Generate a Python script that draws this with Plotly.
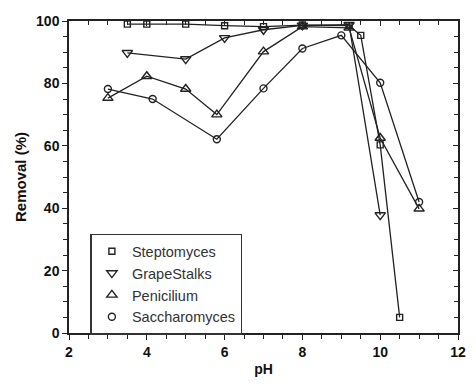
import plotly.graph_objects as go

ph_strep = [3.5, 4.0, 5.0, 6.0, 7.0, 8.0, 9.2, 9.5, 10.0, 10.5]
rem_strep = [99.0, 99.0, 99.0, 98.5, 98.2, 98.7, 98.5, 95.4, 60.3, 5.0]

ph_grape = [3.5, 5.0, 6.0, 7.0, 8.0, 9.2, 10.0]
rem_grape = [89.8, 87.8, 94.6, 97.2, 98.6, 98.8, 37.8]

ph_penic = [3.0, 4.0, 5.0, 5.8, 7.0, 8.0, 9.2, 10.0, 11.0]
rem_penic = [75.3, 82.3, 78.2, 70.0, 90.2, 98.2, 97.8, 62.5, 39.8]

ph_sacch = [3.0, 4.15, 5.8, 7.0, 8.0, 9.0, 10.0, 11.0]
rem_sacch = [78.2, 75.0, 62.1, 78.4, 91.2, 95.4, 80.2, 42.0]

series = [
    ("Steptomyces", ph_strep, rem_strep, "square-open", 6),
    ("GrapeStalks", ph_grape, rem_grape, "triangle-down-open", 9),
    ("Penicilium", ph_penic, rem_penic, "triangle-up-open", 9),
    ("Saccharomyces", ph_sacch, rem_sacch, "circle-open", 7),
]

INK = "#222222"
FAM = "Liberation Sans, Arial, sans-serif"

fig = go.Figure()
for name, x, y, sym, sz in series:
    fig.add_trace(go.Scatter(
        x=x, y=y, mode="lines", showlegend=False, hoverinfo="skip",
        line=dict(color=INK, width=1.3),
    ))
for name, x, y, sym, sz in series:
    fig.add_trace(go.Scatter(
        x=x, y=y, name=name, mode="markers",
        marker=dict(symbol=sym, size=sz, color=INK,
                    line=dict(color=INK, width=1.4)),
    ))

# empty trace so the mirrored top/right axes get drawn
fig.add_trace(go.Scatter(x=[], y=[], xaxis="x2", yaxis="y2",
                         showlegend=False, hoverinfo="skip"))

fig.update_layout(
    width=476, height=385,
    margin=dict(l=69, r=10, t=21, b=48),
    paper_bgcolor="white", plot_bgcolor="white",
    font=dict(family=FAM, color="#111111"),
    showlegend=True,
    legend=dict(
        x=0.055, y=0.318, xanchor="left", yanchor="top",
        bordercolor="#333333", borderwidth=1.5, bgcolor="white",
        font=dict(size=14.5, family=FAM, color="#333333"),
        tracegroupgap=0, itemwidth=30,
        entrywidth=125, entrywidthmode="pixels",
    ),
    xaxis=dict(
        range=[2, 12], dtick=2, tick0=2, ticks="outside", ticklen=5, tickwidth=1.3,
        minor=dict(dtick=0.5, ticks="outside", ticklen=4, tickwidth=1.3, tickcolor=INK),
        showline=True, linecolor=INK, linewidth=1.5, tickcolor=INK,
        showgrid=False, zeroline=False,
        tickfont=dict(family=FAM, size=14, color="#111111", weight="bold"),
        title=dict(text="<b>pH</b>", font=dict(size=14), standoff=6),
    ),
    yaxis=dict(
        range=[0, 100], dtick=20, ticks="outside", ticklen=5, tickwidth=1.3,
        minor=dict(dtick=5, ticks="outside", ticklen=4, tickwidth=1.3, tickcolor=INK),
        showline=True, linecolor=INK, linewidth=1.5, tickcolor=INK,
        showgrid=False, zeroline=False,
        tickfont=dict(family=FAM, size=14, color="#111111", weight="bold"),
        title=dict(text="<b>Removal (%)</b>", font=dict(size=15), standoff=6),
    ),
    xaxis2=dict(
        range=[2, 12], dtick=2, tick0=2, overlaying="x", side="top", anchor="y2",
        ticks="inside", ticklen=5, tickwidth=1.3, tickcolor=INK,
        minor=dict(dtick=0.5, ticks="inside", ticklen=4, tickwidth=1.3, tickcolor=INK),
        showline=True, linecolor=INK, linewidth=1.5,
        showticklabels=False, showgrid=False, zeroline=False,
    ),
    yaxis2=dict(
        range=[0, 100], dtick=20, overlaying="y", side="right", anchor="x2",
        ticks="inside", ticklen=5, tickwidth=1.3, tickcolor=INK,
        minor=dict(dtick=5, ticks="inside", ticklen=4, tickwidth=1.3, tickcolor=INK),
        showline=True, linecolor=INK, linewidth=1.5,
        showticklabels=False, showgrid=False, zeroline=False,
    ),
)
fig.write_html("out.html")
